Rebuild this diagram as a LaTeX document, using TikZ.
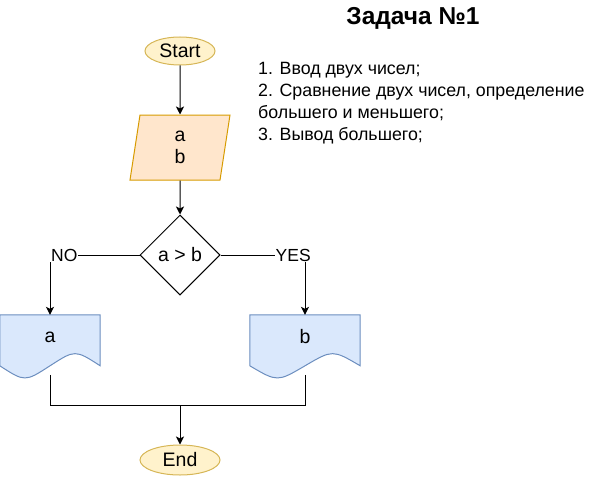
\documentclass[tikz,border=0pt]{standalone}
\usepackage{fontspec}
\setmainfont{Liberation Sans}
\usetikzlibrary{shapes.geometric,arrows.meta,calc,backgrounds}
\definecolor{termfill}{HTML}{FFF2CC}
\definecolor{termdraw}{HTML}{D6B656}
\definecolor{iofill}{HTML}{FFE6CC}
\definecolor{iodraw}{HTML}{D79B00}
\definecolor{docfill}{HTML}{DAE8FC}
\definecolor{docdraw}{HTML}{6C8EBF}

% document shape drawn round a named node (top part is the node)
\newcommand{\docshape}[1]{%
  \begin{scope}[on background layer]
    \path let \p1=(#1.north west), \p2=(#1.north east), \n1={\x2-\x1} in
      [fill=docfill, draw=docdraw, line width=1pt]
      (\p1) -- (\p2) -- ++(0,51)
      .. controls ($(\p1)+(0.75*\n1,34.8)$) .. ($(\p1)+(0.5*\n1,51)$)
      .. controls ($(\p1)+(0.25*\n1,67.2)$) .. ($(\p1)+(0,51)$) -- cycle;
  \end{scope}}

\begin{document}
\begin{tikzpicture}[
    x=1pt, y=-1pt,
    font=\fontsize{19.5}{22}\selectfont,
    terminal/.style={ellipse, draw=termdraw, fill=termfill, line width=1pt, inner sep=0pt},
    iobox/.style={trapezium, trapezium left angle=73, trapezium right angle=107,
      trapezium stretches body, draw=iodraw, fill=iofill, line width=1pt,
      minimum width=100pt, minimum height=65pt, inner sep=0pt, align=center},
    decision/.style={diamond, draw, line width=1pt, minimum width=80pt,
      minimum height=80pt, inner sep=0pt},
    docnode/.style={rectangle, minimum height=44pt, inner sep=0pt},
    branch/.style={fill=white, inner sep=1pt, font=\fontsize{17.5}{20}\selectfont},
    arrow/.style={-{Stealth[length=8pt,width=8pt,inset=2pt]}, line width=1pt},
    line/.style={line width=1pt}
]
    \useasboundingbox (0,0) rectangle (601,476);

    % Flowchart
    \node[terminal, minimum width=70pt, minimum height=28pt] (start) at (180,51) {Start};
    \node[iobox] (input) at (180,147.5) {a\\[0pt]b};
    \node[decision] (cmp) at (180,255) {a > b};
    \node[docnode, minimum width=100pt] (da) at (50,337) {a};
    \node[docnode, minimum width=110pt] (db) at (305,337) {b};
    \docshape{da}
    \docshape{db}
    \node[terminal, minimum width=80pt, minimum height=30pt] (end) at (180,460) {End};

    \coordinate (abot) at ($(da.north)+(0,60)$);
    \coordinate (bbot) at ($(db.north)+(0,60)$);
    \coordinate (join) at (180,405);

    \draw[arrow] (start) -- (input);
    \draw[arrow] (input) -- (cmp);
    \draw[arrow] (cmp.west) -| node[branch, pos=0.42] {NO} (da.north);
    \draw[arrow] (cmp.east) -| node[branch, pos=0.43] {YES} (db.north);
    \draw[line] (abot) |- (join);
    \draw[line] (bbot) |- (join);
    \draw[arrow] (join) -- (end);

    % Task text
    \node[font=\fontsize{24.5}{28}\selectfont\bfseries] (title) at (413,18) {Задача №1};
    \node[anchor=north west, inner sep=0pt, align=left,
      font=\fontsize{17.8}{22}\selectfont] (steps) at (258,62)
      {1. Ввод двух чисел;\\2. Сравнение двух чисел, определение\\большего и меньшего;\\3. Вывод большего;};
\end{tikzpicture}
\end{document}
